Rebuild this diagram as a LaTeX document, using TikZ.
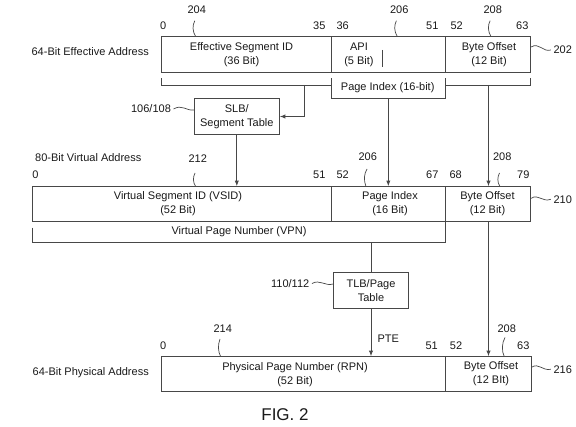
\documentclass[tikz,border=0pt]{standalone}
\usepackage{fontspec}
\setmainfont{Liberation Sans}
\usetikzlibrary{arrows.meta,calc}
\begin{document}
\begin{tikzpicture}[x=1pt,y=-1pt]
\tikzset{
  ln/.style={draw=black!72, line width=0.9pt},
  fieldbox/.style={ln, rectangle, inner sep=0pt},
  txt/.style={inner sep=0pt, font=\fontsize{11}{14}\selectfont, text=black!90, align=center},
  bigtxt/.style={inner sep=0pt, font=\fontsize{17}{20}\selectfont, text=black!90},
  arr/.style={ln, -{Latex[length=5.5pt,width=4.2pt]}},
  lead/.style={draw=black!72, line width=0.7pt, shorten >=0pt},
}
\useasboundingbox (0,0) rectangle (576,427);
% ---------- 64-bit effective address ----------
\node[fieldbox, minimum width=170.7pt, minimum height=35.6pt] (esid) at (246.35,54.5) {};
\node[fieldbox, minimum width=113.6pt, minimum height=35.6pt] (api) at (388.5,54.5) {};
\node[fieldbox, minimum width=85.4pt, minimum height=35.6pt] (bo1) at (488,54.5) {};
\node[txt] (tesid) at (241.5,54.5) {Effective Segment ID\\(36 Bit)};
\node[txt] (tapi) at (359,54.5) {API\\(5 Bit)};
\node[txt] (tbo1) at (489,54.5) {Byte Offset\\(12 Bit)};
\coordinate (apit) at (382.7,50);
\coordinate (apib) at (382.7,66.7);
\draw[ln] (apit) -- (apib);
\node[txt, anchor=east] (lea) at (149,52) {64-Bit Effective Address};
% bit numbers
\node[txt] (e0) at (163.3,25.7) {0};
\node[txt] (e35) at (319.3,25.7) {35};
\node[txt] (e36) at (342.7,25.7) {36};
\node[txt] (e51) at (432.3,25.7) {51};
\node[txt] (e52) at (456.7,25.7) {52};
\node[txt] (e63) at (522.3,25.7) {63};
\node[txt] (r204) at (196.7,10) {204};
\node[txt] (r206a) at (399.3,10) {206};
\node[txt] (r208a) at (492.7,10) {208};
\node[txt] (r202) at (562.7,50) {202};
\draw[lead] (195.7,36.7) .. controls (192.3,31) and (192.3,25.5) .. (194.8,20.7);
\draw[lead] (397.3,36.7) .. controls (394,31) and (394,25.5) .. (396.4,20.7);
\draw[lead] (491,36.7) .. controls (487.7,31) and (487.7,25.5) .. (490.1,20.7);
\draw[lead] (bo1.east |- 0,47) .. controls (539,42) and (543,52.5) .. ($(r202.west)+(-2.5,0)$);
% brackets
\coordinate (b1a) at (161,78.3);
\coordinate (b1b) at (161,85);
\coordinate (b2a) at (331.7,78.3);
\coordinate (b2b) at (331.7,98.3);
\coordinate (b2c) at (445.3,98.3);
\coordinate (b2d) at (445.3,78.3);
\coordinate (b3a) at (530.7,78.3);
\coordinate (b3b) at (530.7,85);
\draw[ln] (b1a) -- (b1b) -- (b1b -| b2a);
\draw[ln] (b2a) -- (b2b) -- (b2c) -- (b2d);
\draw[ln] (b2d |- b3b) -- (b3b) -- (b3a);
\node[txt] (tpi) at (387.7,87.6) {Page Index (16-bit)};
% SLB
\node[fieldbox, txt, minimum width=85pt, minimum height=35.6pt] (slb) at (236.8,116.5) {SLB/\\Segment Table};
\node[txt] (r106) at (151,109) {106/108};
\draw[lead] ($(r106.east)+(2.5,0)$) .. controls (182,104) and (186,111) .. (slb.west |- 0,110);
\coordinate (slbtap) at (304.7,85);
\draw[arr] (slbtap) |- (slb.east);
% ---------- 80-bit virtual address ----------
\node[fieldbox, minimum width=299pt, minimum height=34.3pt] (vsid) at (182.2,203.85) {};
\node[fieldbox, minimum width=113.6pt, minimum height=34.3pt] (vpi) at (388.5,203.85) {};
\node[fieldbox, minimum width=85.4pt, minimum height=34.3pt] (vbo) at (488,203.85) {};
\node[txt] (tvsid) at (178,204) {Virtual Segment ID (VSID)\\(52 Bit)};
\node[txt] (tvpi) at (390,204) {Page Index\\(16 Bit)};
\node[txt] (tvbo) at (487.5,204) {Byte Offset\\(12 Bit)};
\node[txt, anchor=west] (lva) at (35,157.5) {80-Bit Virtual Address};
\node[txt] (v0) at (35.5,175) {0};
\node[txt] (v51) at (319.3,175) {51};
\node[txt] (v52) at (342.7,175) {52};
\node[txt] (v67) at (432.3,175) {67};
\node[txt] (v68) at (455.7,175) {68};
\node[txt] (v79) at (523.3,175) {79};
\node[txt] (r212) at (197.7,158.3) {212};
\node[txt] (r206b) at (367.7,156.7) {206};
\node[txt] (r208b) at (502.3,156.7) {208};
\node[txt] (r210) at (562.7,199.3) {210};
\draw[lead] (195.7,186.7) .. controls (192.8,182) and (192.8,177.5) .. (195,173);
\draw[lead] (366,186.7) .. controls (363.5,180) and (364,174) .. (367,169);
\draw[lead] (500,186.7) .. controls (497.2,182) and (497.2,177.5) .. (499.5,173);
\draw[lead] (vbo.east |- 0,198.3) .. controls (538.5,193.5) and (542,202.5) .. ($(r210.west)+(-2.5,0)$);
% arrows into virtual address
\draw[arr] (slb.south) -- (slb.south |- vsid.north);
\draw[arr] (b2b -| 388.3,0) -- (vpi.north -| 388.3,0);
\draw[arr] (b3b -| 488.5,0) -- (vbo.north -| 488.5,0);
% VPN bracket
\coordinate (vpa) at (32.7,227.7);
\coordinate (vpb) at (32.7,242.7);
\coordinate (vpc) at (445.3,242.7);
\draw[ln] (vpa) -- (vpb) -- (vpc) -- (vpc |- vsid.south);
\node[txt] (tvpn) at (239,231.7) {Virtual Page Number (VPN)};
% TLB
\node[fieldbox, txt, minimum width=74.7pt, minimum height=35.6pt] (tlb) at (371,290.5) {TLB/Page\\Table};
\node[txt] (r110) at (290.2,283.5) {110/112};
\draw[lead] ($(r110.east)+(2.5,0)$) .. controls (320,279) and (325,286.5) .. (tlb.west |- 0,284);
\draw[ln] (vpc -| tlb.north) -- (tlb.north);
% ---------- 64-bit physical address ----------
\node[fieldbox, minimum width=284.5pt, minimum height=35pt] (rpn) at (303.25,374.2) {};
\node[fieldbox, minimum width=85.5pt, minimum height=35pt] (pbo) at (488.25,374.2) {};
\node[txt] (trpn) at (295,374.5) {Physical Page Number (RPN)\\(52 Bit)};
\node[txt] (tpbo) at (491,374) {Byte Offset\\(12 BIt)};
\node[txt, anchor=east] (lpa) at (149,372.5) {64-Bit Physical Address};
\node[txt] (p0) at (163.3,345.7) {0};
\node[txt] (p51) at (431.7,346) {51};
\node[txt] (p52) at (456,346) {52};
\node[txt] (p63) at (523.3,346) {63};
\node[txt] (r214) at (222.7,328.3) {214};
\node[txt] (r208c) at (506.7,328.3) {208};
\node[txt] (r216) at (562.7,369.3) {216};
\node[txt] (pte) at (388.3,339) {PTE};
\draw[lead] (220.7,356.7) .. controls (217.8,351) and (217.8,345) .. (220,339);
\draw[lead] (504.3,356.7) .. controls (501.5,351) and (501.8,343) .. (505,337.5);
\draw[lead] (pbo.east |- 0,367.3) .. controls (539,362.5) and (542,371) .. ($(r216.west)+(-2.5,0)$);
\draw[arr] (tlb.south) -- (tlb.south |- rpn.north);
\draw[arr] (vbo.south -| 488.5,0) -- (pbo.north -| 488.5,0);
% caption
\node[bigtxt] (fig) at (285,415) {FIG. 2};
\end{tikzpicture}
\end{document}
